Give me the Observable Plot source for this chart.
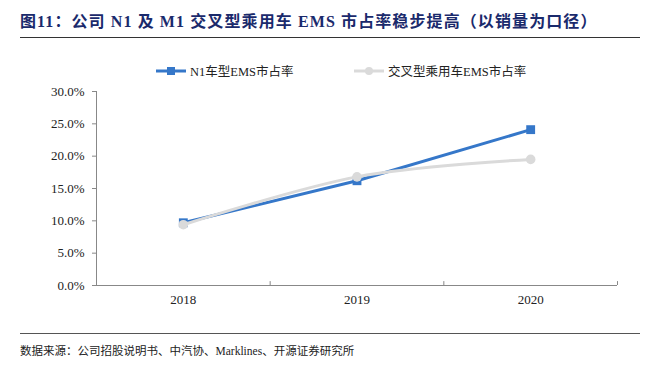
<!DOCTYPE html>
<html>
<head>
<meta charset="utf-8">
<script src="https://cdn.jsdelivr.net/npm/d3@7"></script>
<script src="https://cdn.jsdelivr.net/npm/@observablehq/plot@0.6"></script>
<style>
  body { margin: 0; background: #fff; }
  #wrap { position: relative; width: 650px; height: 369px; overflow: hidden; font-family: "Liberation Serif", "Noto Sans CJK SC", serif; }
  #title { position: absolute; left: 20px; top: 8px; font-size: 16px; font-weight: bold; color: #1a2a6c; white-space: nowrap; letter-spacing: 1.1px; }
  #tline { position: absolute; left: 20px; top: 37px; width: 620px; height: 0; border-top: 1.5px solid #333; }
  #legend { position: absolute; left: 0; top: 61px; width: 650px; font-size: 12.5px; color: #222; }
  .li { position: absolute; display: flex; align-items: center; white-space: nowrap; }
  #fline { position: absolute; left: 20px; top: 333px; width: 620px; height: 0; border-top: 1.5px solid #555; }
  #foot { position: absolute; left: 20px; top: 342px; font-size: 11.5px; color: #222; white-space: nowrap; }
  #chart { position: absolute; left: 0; top: 80px; }
</style>
</head>
<body>
<div id="wrap">
  <div id="title">图11：公司 N1 及 M1 交叉型乘用车 EMS 市占率稳步提高（以销量为口径）</div>
  <div id="tline"></div>
  <div id="legend"></div>
  <div id="chart"></div>
  <div id="fline"></div>
  <div id="foot">数据来源：公司招股说明书、中汽协、Marklines、开源证券研究所</div>
</div>
<script>
const years = [2018, 2019, 2020];
const n1Share = [9.7, 16.2, 24.1];
const crossShare = [9.4, 16.8, 19.5];
const seriesNames = ["N1车型EMS市占率", "交叉型乘用车EMS市占率"];
const seriesColors = ["#3577C9", "#DADADA"];
const yTicks = [0, 5, 10, 15, 20, 25, 30];

const n1Data = years.map((y, i) => ({year: y, value: n1Share[i]}));
const crossData = years.map((y, i) => ({year: y, value: crossShare[i]}));
const bounds = years.map(y => y + 0.5);
const axisColor = "#888";

const chart = Plot.plot({
  width: 650,
  height: 240,
  marginLeft: 96,
  marginRight: 33,
  marginTop: 11,
  marginBottom: 35,
  style: {fontFamily: '"Liberation Serif", serif', fontSize: "13px", color: "#222", background: "transparent"},
  x: {domain: [years[0] - 0.5, years[years.length - 1] + 0.5]},
  y: {domain: [0, 30]},
  marks: [
    Plot.axisY({ticks: yTicks, tickSize: 4, tickPadding: 8, stroke: axisColor, tickFormat: d => d.toFixed(1) + "%", label: null, fill: "#222"}),
    Plot.axisX({ticks: years, tickSize: 0, tickPadding: 9, tickFormat: d => String(d), label: null, fill: "#222"}),
    Plot.ruleX([years[0] - 0.5], {y1: 0, y2: 30, stroke: axisColor}),
    Plot.ruleY([0], {stroke: axisColor}),
    Plot.ruleX(bounds, {y1: 0, y2: 0.6, stroke: axisColor}),
    Plot.line(n1Data, {x: "year", y: "value", stroke: seriesColors[0], strokeWidth: 3}),
    Plot.dot(n1Data, {x: "year", y: "value", symbol: "square", r: 5, fill: seriesColors[0]}),
    Plot.line(crossData, {x: "year", y: "value", stroke: seriesColors[1], strokeWidth: 3, curve: "catmull-rom"}),
    Plot.dot(crossData, {x: "year", y: "value", symbol: "circle", r: 4.8, fill: seriesColors[1]})
  ]
});
document.getElementById("chart").appendChild(chart);

// legend
const legend = document.getElementById("legend");
const legendX = [155, 353];
seriesNames.forEach((name, i) => {
  const item = document.createElement("div");
  item.className = "li";
  item.style.left = legendX[i] + "px";
  const sw = d3.create("svg").attr("width", 32).attr("height", 16);
  sw.append("line").attr("x1", 1).attr("x2", 31).attr("y1", 8).attr("y2", 8)
    .attr("stroke", seriesColors[i]).attr("stroke-width", 3);
  if (i === 0) sw.append("rect").attr("x", 12).attr("y", 4).attr("width", 8).attr("height", 8).attr("fill", seriesColors[i]);
  else sw.append("circle").attr("cx", 16).attr("cy", 8).attr("r", 4).attr("fill", seriesColors[i]);
  item.appendChild(sw.node());
  const t = document.createElement("span");
  t.textContent = name;
  t.style.marginLeft = "3px";
  item.appendChild(t);
  legend.appendChild(item);
});
</script>
</body>
</html>
